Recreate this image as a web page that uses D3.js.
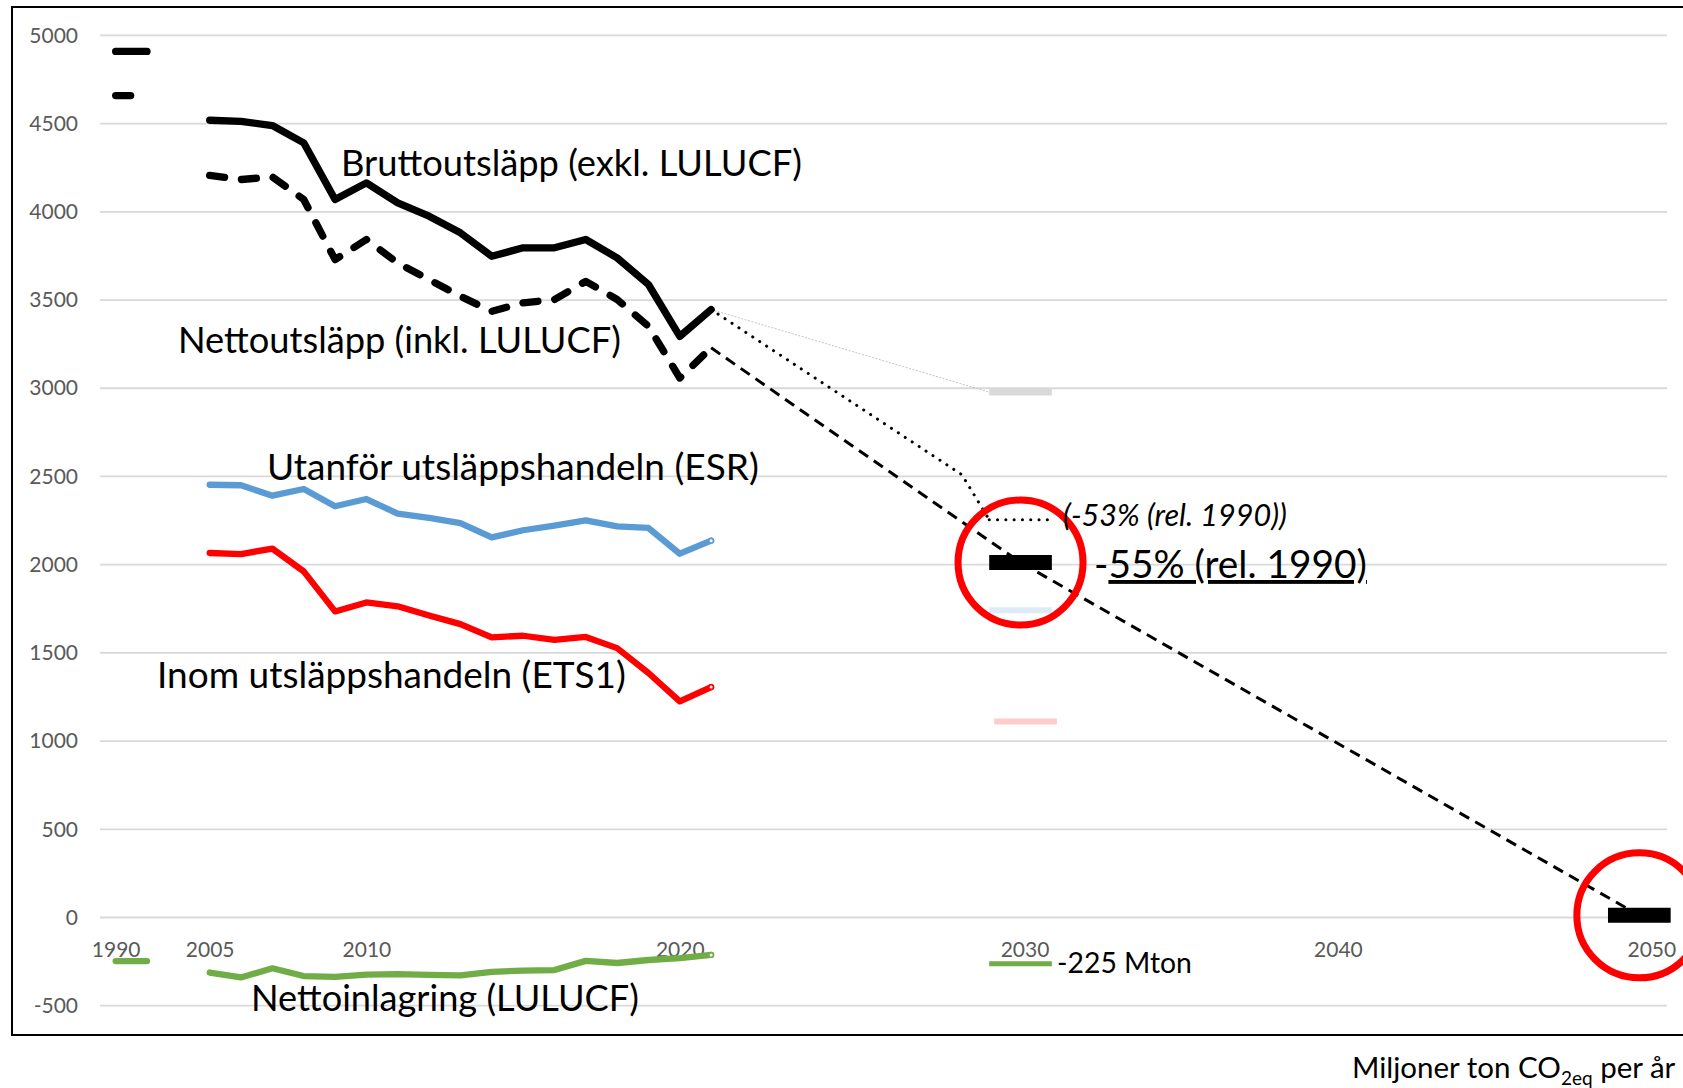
<!DOCTYPE html>
<html>
<head>
<meta charset="utf-8">
<script src="https://cdn.jsdelivr.net/npm/d3@7"></script>
<style>
    body { margin: 0; background: #fff; }
    text { font-family: Lato, "Open Sans", sans-serif; }
    .tick text { fill: #595959; font-size: 21px; }
</style>
</head>
<body>
<script>
(function(){

    // category slots on the x axis (gap slots are unlabeled)
    var categories = ["1990", "gap1", "gap2",
        "2005", "2006", "2007", "2008", "2009", "2010", "2011", "2012", "2013",
        "2014", "2015", "2016", "2017", "2018", "2019", "2020", "2021", "gap3",
        "2022", "2023", "2024", "2025", "2026", "2027", "2028", "2029", "2030",
        "2031", "2032", "2033", "2034", "2035", "2036", "2037", "2038", "2039", "2040",
        "2041", "2042", "2043", "2044", "2045", "2046", "2047", "2048", "2049", "2050"];
    var xTickLabels = ["1990", "2005", "2010", "2020", "2030", "2040", "2050"];
    var yTickValues = [-500, 0, 500, 1000, 1500, 2000, 2500, 3000, 3500, 4000, 4500, 5000];

    var histYears = ["2005", "2006", "2007", "2008", "2009", "2010", "2011", "2012", "2013",
                     "2014", "2015", "2016", "2017", "2018", "2019", "2020", "2021"];
    var gross  = [4519, 4513, 4489, 4391, 4070, 4164, 4051, 3975, 3881, 3748, 3796, 3796, 3843, 3739, 3588, 3294, 3446];
    var net    = [4206, 4183, 4198, 4070, 3729, 3843, 3710, 3616, 3521, 3436, 3484, 3503, 3606, 3503, 3351, 3058, 3229];
    var esr    = [2453, 2450, 2391, 2429, 2331, 2372, 2289, 2265, 2236, 2155, 2195, 2221, 2251, 2217, 2208, 2062, 2136];
    var ets    = [2066, 2060, 2091, 1962, 1735, 1786, 1764, 1712, 1663, 1588, 1597, 1574, 1590, 1527, 1386, 1225, 1306];
    var lulucf = [-312, -340, -288, -332, -337, -324, -321, -325, -328, -308, -301, -298, -246, -258, -241, -230, -212];

    var gross1990 = 4909, net1990 = 4659, lulucf1990 = -247;

    // 2030 / 2050 target levels
    var targetGross2030 = 2978,
        targetNet53 = 2255,
        targetNet55 = 2012,
        targetEsr2030 = 1741,
        targetEts2030 = 1111,
        targetLulucf2030 = -262,
        targetNet2050 = 12;

    // projection paths
    var netPathCats = ["2021", "2030", "2050"];
    var netPathValues = [3229, targetNet55, targetNet2050];
    var dotPathCats = ["2021", "2028", "2029"];
    var dotPathValues = [3446, 2510, targetNet53];
    var grayPathCats = ["2021", "2029"];
    var grayPathValues = [3446, targetGross2030];

    window.onload = drawChart;

    function toPoints(cats, vals) {
        return cats.map(function(c, i) { return {c: c, v: vals[i]}; });
    }

    function drawChart() {
        var width = 1683, height = 1088;

        var svg = d3.select("body")
            .append("svg")
            .attr("width", width)
            .attr("height", height);

        var x = d3.scalePoint()
            .domain(categories)
            .range([100, 1667])
            .padding(0.5);
        var step = x.step();

        // target markers sit a little left of their tick in the original
        var nudge = {"2029": -4, "2030": -4, "2050": -12};
        function xm(c) { return x(c) + (nudge[c] || 0); }

        var y = d3.scaleLinear()
            .domain([-500, 5000])
            .range([1005.7, 35.4]);

        var line = d3.line()
            .x(function(d) { return x(d.c); })
            .y(function(d) { return y(d.v); });
        var targetLine = d3.line()
            .x(function(d) { return xm(d.c); })
            .y(function(d) { return y(d.v); });

        // gridlines
        svg.append("g")
            .selectAll("line")
            .data(yTickValues)
            .enter()
            .append("line")
            .attr("x1", 100)
            .attr("x2", 1667)
            .attr("y1", function(d) { return y(d); })
            .attr("y2", function(d) { return y(d); })
            .attr("stroke", "#d9d9d9")
            .attr("stroke-width", 1.8);

        // axes
        var yAxis = svg.append("g")
            .attr("transform", "translate(100,0)")
            .call(d3.axisLeft(y)
                .tickValues(yTickValues)
                .tickSize(0)
                .tickPadding(22)
                .tickFormat(function(d) { return String(d); }));
        yAxis.select(".domain").remove();

        var xAxis = svg.append("g")
            .attr("transform", "translate(0," + y(0) + ")")
            .call(d3.axisBottom(x)
                .tickValues(xTickLabels)
                .tickSize(0)
                .tickPadding(25));
        xAxis.select(".domain").remove();
        svg.selectAll(".tick text").style("font-family", "Lato, 'Open Sans', sans-serif");

        // projection lines
        svg.append("path")
            .attr("d", targetLine(toPoints(grayPathCats, grayPathValues)))
            .attr("fill", "none")
            .attr("stroke", "#c4c4c4")
            .attr("stroke-width", 1)
            .attr("stroke-dasharray", "2,1.5");

        svg.append("path")
            .attr("d", targetLine(toPoints(dotPathCats, dotPathValues)))
            .attr("fill", "none")
            .attr("stroke", "#000")
            .attr("stroke-width", 3)
            .attr("stroke-linecap", "round")
            .attr("stroke-dasharray", "0.1,8.2");

        svg.append("path")
            .attr("d", targetLine(toPoints(netPathCats, netPathValues)))
            .attr("fill", "none")
            .attr("stroke", "#000")
            .attr("stroke-width", 3)
            .attr("stroke-dasharray", "11,7");

        // historic series
        var series = [
            {vals: lulucf, base: lulucf1990, color: "#70ad47", w: 6.3, dash: null, marker: true},
            {vals: ets, base: null, color: "#ff0000", w: 6.3, dash: null, marker: true},
            {vals: esr, base: null, color: "#5b9bd5", w: 6.3, dash: null, marker: true},
            {vals: net, base: net1990, color: "#000", w: 7.3, dash: "15,17", marker: false},
            {vals: gross, base: gross1990, color: "#000", w: 7.3, dash: null, marker: false}
        ];

        series.forEach(function(s) {
            var pts = toPoints(histYears, s.vals);
            svg.append("path")
                .attr("d", line(pts))
                .attr("fill", "none")
                .attr("stroke", s.color)
                .attr("stroke-width", s.w)
                .attr("stroke-linecap", "round")
                .attr("stroke-linejoin", "round")
                .attr("stroke-dasharray", s.dash);

            if (s.base !== null) {
                svg.append("path")
                    .attr("d", line([{c: "1990", v: s.base}, {c: "gap1", v: s.base}]))
                    .attr("fill", "none")
                    .attr("stroke", s.color)
                    .attr("stroke-width", s.w)
                    .attr("stroke-linecap", "round")
                    .attr("stroke-dasharray", s.dash);
            }

            if (s.marker) {
                var last = pts[pts.length - 1];
                svg.append("circle")
                    .attr("cx", x(last.c))
                    .attr("cy", y(last.v))
                    .attr("r", 2.3)
                    .attr("fill", "#fff")
                    .attr("stroke", s.color)
                    .attr("stroke-width", 1.6);
            }
        });

        // target bars
        function targetBar(cat, value, thickness, color, dash, shift) {
            var cx = xm(cat) + (shift || 0);
            svg.append("line")
                .attr("x1", cx - step)
                .attr("x2", cx + step)
                .attr("y1", y(value))
                .attr("y2", y(value))
                .attr("stroke", color)
                .attr("stroke-width", thickness)
                .attr("stroke-linecap", dash ? "round" : "butt")
                .attr("stroke-dasharray", dash);
        }

        targetBar("2030", targetGross2030, 7, "#d9d9d9", null);
        targetBar("2030", targetEsr2030, 6, "#ddebf7", null);
        targetBar("2030", targetEts2030, 6, "#ffcccc", null, 5);
        targetBar("2030", targetLulucf2030, 5, "#70ad47", null);
        targetBar("2030", targetNet53, 3, "#000", "0.1,8.2");
        targetBar("2030", targetNet55, 15, "#000", null);
        targetBar("2050", targetNet2050, 15, "#000", null);

        // red circles
        [{c: "2030", v: targetNet55}, {c: "2050", v: targetNet2050}].forEach(function(d) {
            svg.append("circle")
                .attr("cx", xm(d.c))
                .attr("cy", y(d.v))
                .attr("r", 62.5)
                .attr("fill", "none")
                .attr("stroke", "#ff0000")
                .attr("stroke-width", 7);
        });

        // labels, fitted to the widths seen in the original
        function label(str, lx, ly, targetW, italic) {
            var t = svg.append("text")
                .attr("x", lx)
                .attr("y", ly)
                .style("font-size", "36px")
                .style("font-style", italic ? "italic" : "normal")
                .attr("fill", "#000")
                .text(str);
            var w = t.node().getComputedTextLength();
            t.style("font-size", (36 * targetW / w) + "px");
            return t;
        }

        label("Bruttoutsläpp (exkl. LULUCF)", 341, 176, 461);
        label("Nettoutsläpp (inkl. LULUCF)", 178, 353, 443);
        label("Utanför utsläppshandeln (ESR)", 267, 480, 492);
        label("Inom utsläppshandeln (ETS1)", 157, 688, 469);
        label("Nettoinlagring (LULUCF)", 251, 1011, 388);
        label("(-53% (rel. 1990))", 1063, 526, 224, true);
        label("-225 Mton", 1057, 973, 135);

        var t55 = svg.append("text")
            .attr("x", 1094)
            .attr("y", 578)
            .style("font-size", "36px");
        t55.append("tspan").text("-");
        t55.append("tspan").style("text-decoration", "underline").text("55% (rel. 1990)");
        var w55 = t55.node().getComputedTextLength();
        t55.style("font-size", (36 * 273 / w55) + "px");

        var unit = svg.append("text")
            .attr("x", 1352)
            .attr("y", 1078)
            .style("font-size", "29.5px");
        unit.append("tspan").text("Miljoner ton CO");
        unit.append("tspan").attr("dy", 7).style("font-size", "19px").text("2eq");
        unit.append("tspan").attr("dy", -7).text(" per år");

        // chart frame (right edge lies outside the picture)
        svg.append("rect")
            .attr("x", 12)
            .attr("y", 7)
            .attr("width", 1720)
            .attr("height", 1028)
            .attr("fill", "none")
            .attr("stroke", "#000")
            .attr("stroke-width", 2);
    }

})();
</script>
</body>
</html>
